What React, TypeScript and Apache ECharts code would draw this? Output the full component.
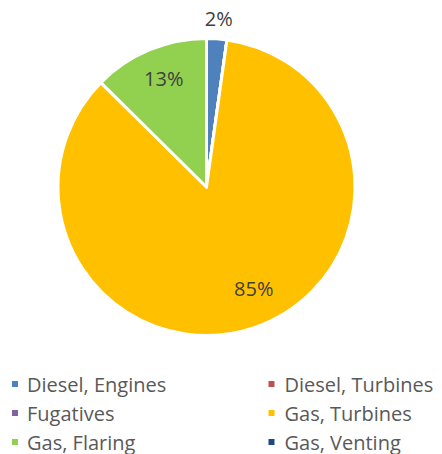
import React, { useEffect, useRef } from 'react';
import * as echarts from 'echarts';

const categories = ['Diesel, Engines', 'Diesel, Turbines', 'Fugatives', 'Gas, Turbines', 'Gas, Flaring', 'Gas, Venting'];
const shares = [2.2, 0, 0, 85.2, 12.6, 0];
const colors = ['#4F81BD', '#C0504D', '#8064A2', '#FFC000', '#92D050', '#1F497D'];
const legendLeftItems = ['Diesel, Engines', 'Fugatives', 'Gas, Flaring'];
const legendRightItems = ['Diesel, Turbines', 'Gas, Turbines', 'Gas, Venting'];

// label nudges (padding shifts the text away from ECharts' inside anchor)
const labelPadding: Record<string, number[]> = {
  'Diesel, Engines': [0, 0, 182, 14],
  'Gas, Turbines': [56, 0, 0, 45],
  'Gas, Flaring': [0, 26, 74, 0],
};

const FONT = 'Open Sans';

export default function App() {
  const ref = useRef<HTMLDivElement>(null);
  useEffect(() => {
    if (!ref.current) return;
    const chart = echarts.init(ref.current, null, { renderer: 'svg' });
    const legendBase = {
      orient: 'vertical' as const,
      top: 374,
      height: 80,
      padding: 0,
      icon: 'rect',
      itemWidth: 6,
      itemHeight: 6,
      itemGap: 9,
      selectedMode: false,
      itemStyle: { borderWidth: 0 },
      textStyle: { fontFamily: FONT, fontSize: 20, color: '#595959', lineHeight: 20, padding: [0, 0, 0, 4] },
    };
    chart.setOption({
      animation: false,
      color: colors,
      legend: [
        { ...legendBase, left: 12, data: legendLeftItems },
        { ...legendBase, left: 268.5, data: legendRightItems, textStyle: { ...legendBase.textStyle, padding: [0, 0, 0, 5] } },
      ],
      series: [
        {
          type: 'pie',
          center: [206.5, 187],
          radius: [0, 148.5],
          startAngle: 90,
          clockwise: true,
          avoidLabelOverlap: false,
          emphasis: { disabled: true },
          itemStyle: { borderColor: '#ffffff', borderWidth: 3 },
          label: {
            show: true,
            position: 'inside',
            formatter: (p: any) => `{p|${Math.round(p.percent)}%}`,
            rich: { p: { fontFamily: FONT, fontSize: 20, color: '#404040' } },
          },
          labelLine: { show: false },
          data: categories.map((name, i) => ({
            name,
            value: shares[i],
            label: shares[i] > 0 ? { show: true, padding: labelPadding[name] || 0 } : { show: false },
          })),
        },
      ],
    });
    return () => chart.dispose();
  }, []);
  return <div ref={ref} style={{ position: 'absolute', left: 0, top: 0, width: 442, height: 454 }} />;
}
